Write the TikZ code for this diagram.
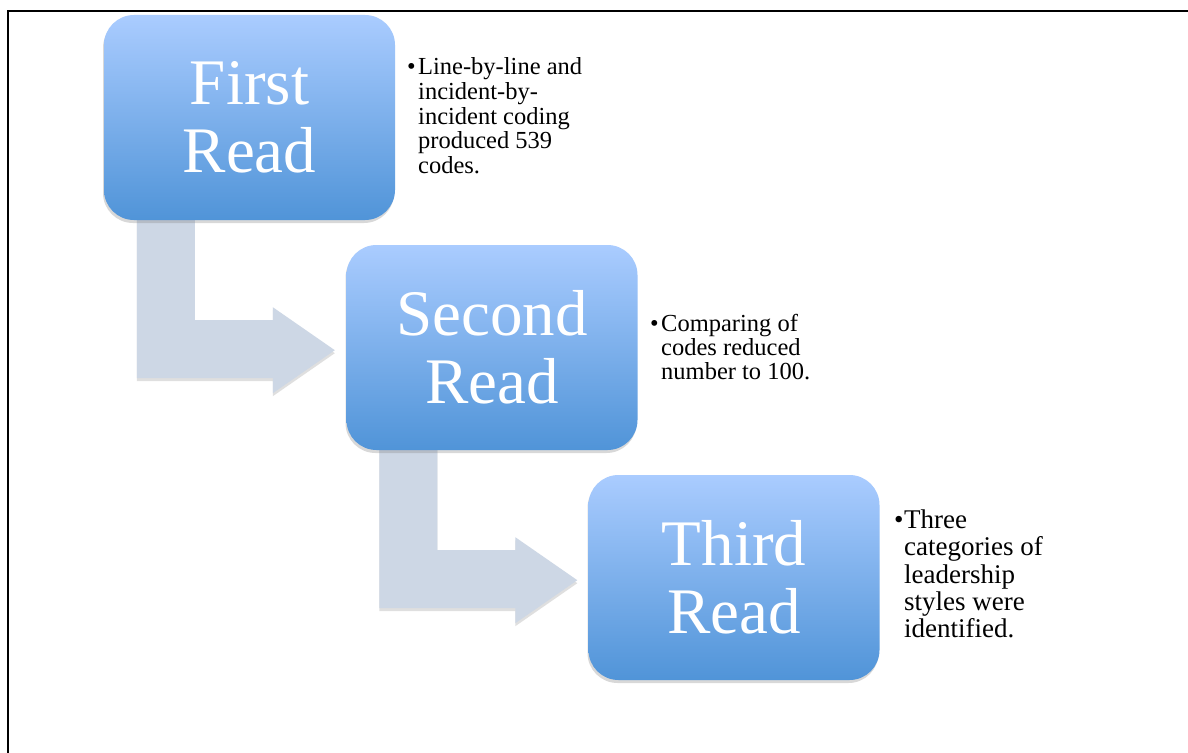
\documentclass[tikz,border=0pt]{standalone}
\usepackage{fontspec}
\setmainfont{Liberation Serif}
\usetikzlibrary{calc,shadows}
\definecolor{boxtop}{RGB}{170,204,255}
\definecolor{boxbot}{RGB}{80,148,216}
\definecolor{arrowfill}{RGB}{205,215,229}
\pgfdeclarelayer{bg}
\pgfsetlayers{bg,main}
\newcommand\bul[1]{\makebox[#1][l]{•}}
\newcommand\ind[1]{\hspace*{#1}}
\newcommand\bentarrowpath[1]{%
  \fill[bentarrow] ($(#1.south west)+(33,-10)$) -- ++(58,0) -- ++(0,110) -- ++(78,0)
    -- ++(0,-13) -- ++(62,43) -- ++(-62,43) -- ++(0,-15) -- ++(-136,0) -- cycle;}
\tikzset{
  readbox/.style={rectangle, rounded corners=30pt, minimum width=291pt,
    minimum height=205pt, inner sep=0pt, top color=boxtop, bottom color=boxbot,
    text=white, align=center, font=\fontsize{65}{68}\selectfont,
    drop shadow={shadow xshift=-1pt, shadow yshift=-3pt, opacity=0.3}},
  bentarrow/.style={fill=arrowfill,
    drop shadow={shadow xshift=0pt, shadow yshift=-3pt, opacity=0.25}},
  note/.style={anchor=north west, inner sep=0pt, align=left, text=black},
  frameline/.style={line width=2.3pt, black}
}
\begin{document}
\begin{tikzpicture}[x=1pt, y=-1pt]
\useasboundingbox (0,0) rectangle (1188,752);

\node[readbox] (box1) at (249.5,117.5) {First\\Read};
\node[readbox] (box2) at (492,347.5) {Second\\Read};
\node[readbox] (box3) at (734,577.5) {Third\\Read};

\begin{pgfonlayer}{bg}
  \fill[white] (0,0) rectangle (1188,752);
  \bentarrowpath{box1}
  \bentarrowpath{box2}
\end{pgfonlayer}

\draw[frameline] (1190,11) -- (8,11) -- (8,754);

\node[note, font=\fontsize{24.5}{24.75}\selectfont] (note1) at (407,57.3)
  {\bul{11pt}Line-by-line and\\\ind{11pt}incident-by-\\\ind{11pt}incident coding\\\ind{11pt}produced 539\\\ind{11pt}codes.};
\node[note, font=\fontsize{24.5}{24}\selectfont] (note2) at (650,314.3)
  {\bul{11pt}Comparing of\\\ind{11pt}codes reduced\\\ind{11pt}number to 100.};
\node[note, font=\fontsize{27}{27.3}\selectfont] (note3) at (894,509.6)
  {\bul{10pt}Three\\\ind{10pt}categories of\\\ind{10pt}leadership\\\ind{10pt}styles were\\\ind{10pt}identified.};
\end{tikzpicture}
\end{document}
